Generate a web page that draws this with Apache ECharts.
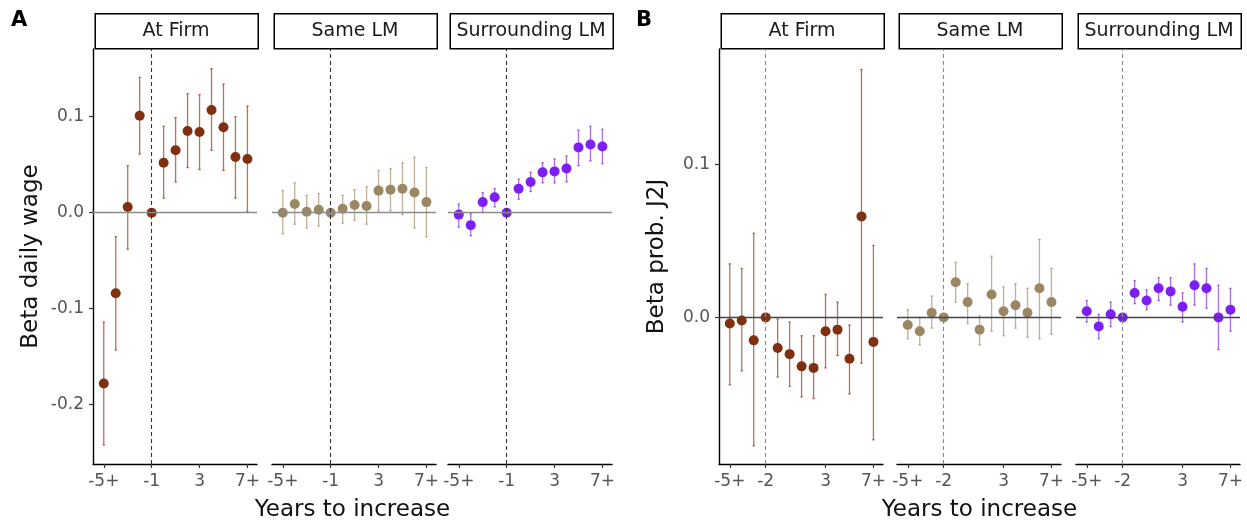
<!DOCTYPE html>
<html>
<head>
<meta charset="utf-8">
<script src="https://cdn.jsdelivr.net/npm/echarts@6/dist/echarts.min.js"></script>
<style>
  html, body { margin: 0; background: #fff; }
  #chart { width: 1247px; height: 525px; }
</style>
</head>
<body>
<div id="chart"></div>
<script>
// years relative to the increase, -5 means "-5+" and 7 means "7+"
const years = [-5, -4, -3, -2, -1, 0, 1, 2, 3, 4, 5, 6, 7];

const tickValsA = [-5, -1, 3, 7];
const tickLabelsA = ['-5+', '-1', '3', '7+'];
const tickValsB = [-5, -2, 3, 7];
const tickLabelsB = ['-5+', '-2', '3', '7+'];
const yTicksA = [-0.2, -0.1, 0, 0.1];
const yTicksB = [0, 0.1];

const facetNames = ['At Firm', 'Same LM', 'Surrounding LM'];

// panel A: beta daily wage
const wageFirm = [-0.178, -0.084, 0.006, 0.101, 0, 0.052, 0.065, 0.085, 0.084, 0.107, 0.089, 0.058, 0.056];
const wageFirmLo = [-0.242, -0.143, -0.038, 0.061, null, 0.015, 0.032, 0.047, 0.045, 0.065, 0.044, 0.015, 0.001];
const wageFirmHi = [-0.114, -0.025, 0.049, 0.141, null, 0.090, 0.099, 0.124, 0.123, 0.150, 0.134, 0.100, 0.111];

const wageSame = [0, 0.009, 0.001, 0.003, 0, 0.004, 0.008, 0.007, 0.023, 0.024, 0.025, 0.021, 0.011];
const wageSameLo = [-0.022, -0.012, -0.016, -0.014, null, -0.011, -0.008, -0.012, 0.002, 0.002, -0.002, -0.016, -0.025];
const wageSameHi = [0.023, 0.031, 0.018, 0.020, null, 0.018, 0.024, 0.027, 0.044, 0.046, 0.052, 0.058, 0.047];

const wageSurr = [-0.002, -0.013, 0.011, 0.016, 0, 0.025, 0.032, 0.042, 0.043, 0.046, 0.068, 0.071, 0.069];
const wageSurrLo = [-0.015, -0.024, 0.000, 0.006, null, 0.014, 0.022, 0.031, 0.031, 0.032, 0.049, 0.054, 0.051];
const wageSurrHi = [0.009, -0.001, 0.021, 0.025, null, 0.035, 0.042, 0.052, 0.056, 0.059, 0.086, 0.090, 0.087];

// panel B: beta prob. J2J
const j2jFirm = [-0.004, -0.002, -0.015, 0, -0.020, -0.024, -0.032, -0.033, -0.009, -0.008, -0.027, 0.066, -0.016];
const j2jFirmLo = [-0.044, -0.035, -0.084, null, -0.039, -0.045, -0.052, -0.053, -0.033, -0.025, -0.050, -0.030, -0.080];
const j2jFirmHi = [0.035, 0.032, 0.055, null, -0.001, -0.003, -0.012, -0.012, 0.015, 0.010, -0.005, 0.162, 0.047];

const j2jSame = [-0.005, -0.009, 0.003, 0, 0.023, 0.010, -0.008, 0.015, 0.004, 0.008, 0.003, 0.019, 0.010];
const j2jSameLo = [-0.014, -0.018, -0.007, null, 0.010, -0.004, -0.018, -0.009, -0.012, -0.007, -0.013, -0.014, -0.011];
const j2jSameHi = [0.005, 0.000, 0.014, null, 0.036, 0.022, 0.001, 0.040, 0.020, 0.022, 0.019, 0.051, 0.032];

const j2jSurr = [0.004, -0.006, 0.002, 0, 0.016, 0.011, 0.019, 0.017, 0.007, 0.021, 0.019, 0.000, 0.005];
const j2jSurrLo = [-0.003, -0.014, -0.006, null, 0.009, 0.005, 0.011, 0.008, -0.003, 0.008, 0.006, -0.021, -0.009];
const j2jSurrHi = [0.011, 0.002, 0.010, null, 0.024, 0.018, 0.026, 0.026, 0.016, 0.035, 0.032, 0.021, 0.019];

const COLORS = ['#80300f', '#9b8763', '#7b1ff2'];
const FONT = 'DejaVu Sans';
const TOP = 49, BOTTOM = 464;

const panels = [
  {
    letter: 'A', letterX: 11, yName: 'Beta daily wage',
    lefts: [93, 272, 448], width: 164,
    yMin: -0.2618, yMax: 0.1705, yTicks: yTicksA,
    ref: -1, tickVals: tickValsA, tickLabels: tickLabelsA,
    zeroColor: '#8c8c8c', refColor: '#333333',
    series: [
      [wageFirm, wageFirmLo, wageFirmHi],
      [wageSame, wageSameLo, wageSameHi],
      [wageSurr, wageSurrLo, wageSurrHi],
    ],
  },
  {
    letter: 'B', letterX: 636, yName: 'Beta prob. J2J',
    lefts: [719, 897, 1076], width: 164,
    yMin: -0.0958, yMax: 0.1754, yTicks: yTicksB,
    ref: -2, tickVals: tickValsB, tickLabels: tickLabelsB,
    zeroColor: '#444444', refColor: '#8c8c8c',
    series: [
      [j2jFirm, j2jFirmLo, j2jFirmHi],
      [j2jSame, j2jSameLo, j2jSameHi],
      [j2jSurr, j2jSurrLo, j2jSurrHi],
    ],
  },
];

const grid = [], xAxis = [], yAxis = [], series = [], graphic = [];

panels.forEach((p) => {
  p.lefts.forEach((left, f) => {
    const idx = grid.length;
    const first = f === 0;
    grid.push({ left, top: TOP, width: p.width, height: BOTTOM - TOP });

    xAxis.push({
      gridIndex: idx, type: 'value', min: -5.9, max: 7.8,
      splitLine: { show: false },
      axisLine: { onZero: false, lineStyle: { color: '#000', width: 1.4 } },
      axisTick: { customValues: p.tickVals, length: 4, lineStyle: { color: '#333', width: 1.2 } },
      axisLabel: {
        customValues: p.tickVals, margin: 9, color: '#555', fontSize: 17, fontFamily: FONT,
        formatter: (v) => p.tickLabels[p.tickVals.indexOf(v)],
      },
    });

    yAxis.push({
      gridIndex: idx, type: 'value', min: p.yMin, max: p.yMax,
      splitLine: { show: false },
      axisLine: { show: first, onZero: false, lineStyle: { color: '#000', width: 1.4 } },
      axisTick: { show: first, customValues: p.yTicks, length: 4, lineStyle: { color: '#333', width: 1.2 } },
      axisLabel: {
        show: first, customValues: p.yTicks, margin: 9, color: '#555', fontSize: 17, fontFamily: FONT,
        formatter: (v) => v.toFixed(1),
      },
      name: first ? p.yName : '', nameLocation: 'middle', nameGap: 50,
      nameTextStyle: { fontSize: 23, color: '#111', fontFamily: FONT },
    });

    const [est, lo, hi] = p.series[f];
    const color = COLORS[f];

    series.push({
      type: 'custom', xAxisIndex: idx, yAxisIndex: idx, z: 2,
      data: years.map((y, i) => [y, lo[i], hi[i]]).filter((d) => d[1] != null),
      encode: { x: 0, y: [1, 2] },
      renderItem: (params, api) => {
        const x = api.value(0);
        const top = api.coord([x, api.value(2)]);
        const bot = api.coord([x, api.value(1)]);
        const st = { stroke: color, lineWidth: 1.3, opacity: 0.65 };
        return {
          type: 'group',
          children: [
            { type: 'line', shape: { x1: top[0], y1: top[1], x2: bot[0], y2: bot[1] }, style: st },
            { type: 'line', shape: { x1: top[0] - 1.2, y1: top[1], x2: top[0] + 1.2, y2: top[1] }, style: st },
            { type: 'line', shape: { x1: bot[0] - 1.2, y1: bot[1], x2: bot[0] + 1.2, y2: bot[1] }, style: st },
          ],
        };
      },
      markLine: {
        silent: true, symbol: 'none', label: { show: false },
        data: [
          { yAxis: 0, lineStyle: { color: p.zeroColor, width: 1.3, type: 'solid' } },
          { xAxis: p.ref, lineStyle: { color: p.refColor, width: 1.1, type: [4, 3] } },
        ],
      },
    });

    series.push({
      type: 'scatter', xAxisIndex: idx, yAxisIndex: idx, z: 3,
      symbolSize: 10,
      itemStyle: { color, opacity: 1 },
      data: years.map((y, i) => [y, est[i]]),
    });

    // facet strip
    graphic.push({
      type: 'rect', left: left + 1.5, top: 13,
      shape: { width: p.width - 1, height: 35 },
      style: { fill: '#fff', stroke: '#000', lineWidth: 1.5 },
    });
    graphic.push({
      type: 'text', x: left + 1 + p.width / 2, y: 31,
      style: {
        text: facetNames[f], fill: '#1a1a1a', font: '19px "DejaVu Sans"',
        textAlign: 'center', textVerticalAlign: 'middle',
      },
    });
  });

  graphic.push({
    type: 'text', x: p.letterX, y: 10,
    style: { text: p.letter, fill: '#000', font: 'bold 21px "DejaVu Sans"' },
  });
  const l0 = p.lefts[0], l2 = p.lefts[2] + p.width;
  graphic.push({
    type: 'text', x: (l0 + l2) / 2, y: 510,
    style: {
      text: 'Years to increase', fill: '#111', font: '23px "DejaVu Sans"',
      textAlign: 'center', textVerticalAlign: 'middle',
    },
  });
});

const chart = echarts.init(document.getElementById('chart'));
chart.setOption({
  animation: false,
  backgroundColor: '#fff',
  grid, xAxis, yAxis, series, graphic,
});
</script>
</body>
</html>
